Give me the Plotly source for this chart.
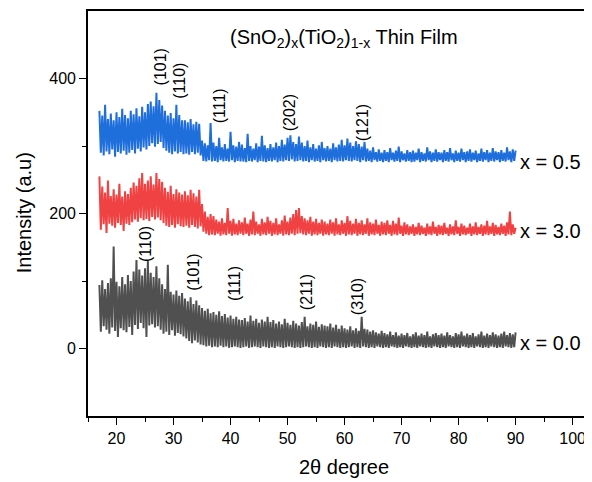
import numpy as np
import plotly.graph_objects as go

# 2-theta grid (degrees)
two_theta = np.arange(17.0, 90.001, 0.25)

# x = 0.5 (blue)
int_x05 = [
    352,290,345,286,361,292,340,288,348,295,338,284,350,291,343,289,355,293,346,287,
    341,290,352,294,347,289,356,296,344,292,358,298,350,295,362,300,366,304,359,299,
    379,303,368,306,360,297,352,293,345,290,349,288,341,292,361,289,346,291,338,288,
    338,289,335,287,340,291,332,288,336,290,333,286,308,278,304,277,301,279,334,277,
    305,278,300,276,312,279,298,277,303,278,296,277,321,279,301,276,299,278,306,277,
    302,277,297,276,318,278,300,277,296,279,304,276,299,278,315,277,301,276,297,278,
    303,277,298,279,305,276,300,278,309,277,302,279,312,278,316,280,306,277,303,278,
    314,279,305,277,300,278,308,276,298,279,303,277,296,278,301,276,306,279,297,277,
    300,278,296,276,304,279,298,277,302,278,309,277,301,279,311,278,305,277,300,279,
    307,278,303,276,299,279,306,277,296,278,293,276,298,279,291,277,295,278,290,276,
    294,278,291,276,297,279,290,277,293,278,299,276,292,279,289,277,294,278,291,276,
    293,277,290,279,296,276,291,278,289,277,298,279,292,276,290,278,295,277,291,279,
    290,276,294,278,291,277,297,279,289,276,293,278,290,277,296,279,291,276,292,278,
    295,277,290,279,293,276,289,278,296,277,291,279,294,276,290,278,297,277,292,279,
    291,276,294,278,290,277,298,279,292,276,295,278,293,
]

# x = 3.0 (red)
int_x30 = [
    255,176,240,184,231,171,249,185,226,182,236,179,228,186,244,183,225,174,233,185,
    229,183,238,187,246,191,241,188,252,193,260,190,244,192,249,189,255,195,243,191,
    260,194,251,190,247,186,238,182,232,180,241,183,229,179,236,184,231,181,228,180,
    233,182,227,179,235,183,230,180,225,178,235,181,214,173,203,170,195,168,199,169,
    196,168,191,170,188,167,193,169,186,168,208,170,189,167,192,169,185,168,190,170,
    187,168,194,170,185,167,191,169,203,168,188,170,184,167,192,169,187,168,195,170,
    189,167,186,169,193,168,184,170,190,167,197,169,188,168,194,170,199,168,205,170,
    208,171,196,169,193,168,190,170,195,167,188,169,192,168,186,170,191,167,188,169,
    185,168,191,170,187,167,193,169,184,168,190,170,186,167,196,169,189,168,185,170,
    192,167,186,169,190,168,184,170,193,167,187,169,185,168,191,170,183,167,188,169,
    186,168,190,170,183,167,189,169,185,168,194,170,182,167,187,169,184,168,181,170,
    184,167,180,169,186,168,182,170,179,167,185,169,181,168,188,170,180,167,183,169,
    182,168,186,170,179,167,184,169,181,168,190,170,180,167,185,169,182,168,179,170,
    185,167,181,169,187,168,180,170,184,167,182,169,189,168,181,170,186,167,183,169,
    180,168,185,170,182,167,187,169,203,168,184,170,179,
]

# x = 0.0 (grey)
int_x00 = [
    94,25,101,33,88,28,97,22,104,31,151,26,99,17,92,30,106,27,95,24,
    109,32,100,20,114,35,131,29,117,38,108,30,119,17,130,34,112,36,106,31,
    122,33,104,28,95,22,88,25,124,20,84,27,80,19,86,23,78,21,82,18,
    74,15,70,11,76,8,66,12,71,9,64,6,60,5,56,3,59,4,52,2,
    54,3,50,2,55,4,48,2,51,3,46,1,49,2,44,3,47,2,43,1,
    42,2,45,3,40,1,49,2,41,3,44,2,38,1,43,3,40,2,47,1,
    39,2,42,1,37,3,40,2,36,1,44,2,38,3,35,2,41,1,37,2,
    34,1,39,2,47,3,33,2,37,1,35,2,40,1,32,3,36,2,34,1,
    33,2,37,1,31,3,35,2,29,1,34,2,30,1,28,2,33,3,27,1,
    30,2,26,1,47,3,29,2,28,1,25,2,27,1,24,3,22,2,26,1,
    23,2,21,1,25,3,20,2,24,1,19,2,22,1,20,3,23,2,18,1,
    21,2,24,1,19,3,22,2,20,1,25,2,18,1,21,3,23,2,20,1,
    22,2,19,1,24,3,20,2,18,1,23,2,21,1,25,3,19,2,22,1,
    20,2,23,1,18,3,21,2,25,1,19,2,22,1,20,3,24,2,21,1,
    19,2,22,1,25,3,20,2,23,1,21,2,24,
]

series_names = ["x = 0.5", "x = 3.0", "x = 0.0"]
series_values = [int_x05, int_x30, int_x00]
series_colors = ["#1E6FDC", "#F04242", "#505050"]
series_label_y = [276, 174, 8]

# peak labels
peaks_x05_text = ["(101)", "(110)", "(111)", "(202)", "(121)"]
peaks_x05_pos = [27.7, 31.0, 38.0, 50.5, 63.2]
peaks_x05_lab_y = [417, 397, 359, 349, 335]
peaks_x00_text = ["(110)", "(101)", "(111)", "(211)", "(310)"]
peaks_x00_pos = [25.2, 33.5, 40.6, 53.3, 62.3]
peaks_x00_lab_y = [155, 113, 97, 84, 77]

# axis ticks
x_major_ticks = [20, 30, 40, 50, 60, 70, 80, 90, 100]
x_minor_ticks = [15, 25, 35, 45, 55, 65, 75, 85, 95]
y_major_ticks = [0, 200, 400]
y_minor_ticks = [100, 300]

FONT = "Liberation Sans, Arial, sans-serif"

fig = go.Figure()
for name, vals, col in zip(series_names, series_values, series_colors):
    fig.add_trace(go.Scatter(x=two_theta, y=vals, mode="lines", name=name,
                             line=dict(color=col, width=2.0), showlegend=False,
                             hoverinfo="skip"))

ann = []
for name, ly in zip(series_names, series_label_y):
    ann.append(dict(x=90.4, y=ly, xref="x", yref="y", text=name, showarrow=False,
                    xanchor="left", yanchor="middle", font=dict(size=20, color="black", family=FONT)))
for t, px, py in list(zip(peaks_x05_text, peaks_x05_pos, peaks_x05_lab_y)) + \
        list(zip(peaks_x00_text, peaks_x00_pos, peaks_x00_lab_y)):
    ann.append(dict(x=px, y=py, xref="x", yref="y", text=t, showarrow=False, textangle=-90,
                    xanchor="center", yanchor="middle", font=dict(size=16, color="black", family=FONT)))
ann.append(dict(x=0.508, y=0.933, xref="paper", yref="paper",
                text="(SnO<sub>2</sub>)<sub>x</sub>(TiO<sub>2</sub>)<sub>1-x</sub> Thin Film",
                showarrow=False, xanchor="center", yanchor="middle",
                font=dict(size=20, color="black", family=FONT)))
ann.append(dict(x=-0.127, y=0.503, xref="paper", yref="paper", text="Intensity (a.u)",
                showarrow=False, textangle=-90, xanchor="center", yanchor="middle",
                font=dict(size=20, color="black", family=FONT)))
ann.append(dict(x=0.508, y=-0.126, xref="paper", yref="paper", text="2θ degree",
                showarrow=False, xanchor="center", yanchor="middle",
                font=dict(size=20, color="black", family=FONT)))

# page body has an 8px margin, so the figure is 8px smaller and margins shifted
fig.update_layout(
    width=584, height=474,
    margin=dict(l=80, r=0, t=3, b=66),
    paper_bgcolor="white", plot_bgcolor="white",
    font=dict(family=FONT, size=16, color="black"),
    annotations=ann,
    xaxis=dict(range=[15, 103.4], tickmode="array", tickvals=x_major_ticks,
               ticks="outside", ticklen=7, tickwidth=1.3, tickcolor="black",
               showline=True, linecolor="black", linewidth=1.6, mirror=True,
               showgrid=False, zeroline=False,
               tickfont=dict(size=16, family=FONT, color="black"),
               minor=dict(tickmode="array", tickvals=x_minor_ticks, ticks="outside",
                          ticklen=4, tickwidth=1.3, tickcolor="black", showgrid=False)),
    yaxis=dict(range=[-100, 500], tickmode="array", tickvals=y_major_ticks,
               ticks="outside", ticklen=7, tickwidth=1.3, tickcolor="black",
               showline=True, linecolor="black", linewidth=1.6,
               showgrid=False, zeroline=False,
               tickfont=dict(size=16, family=FONT, color="black"),
               minor=dict(tickmode="array", tickvals=y_minor_ticks, ticks="outside",
                          ticklen=4, tickwidth=1.3, tickcolor="black", showgrid=False)),
)

fig.write_html("out.html")
